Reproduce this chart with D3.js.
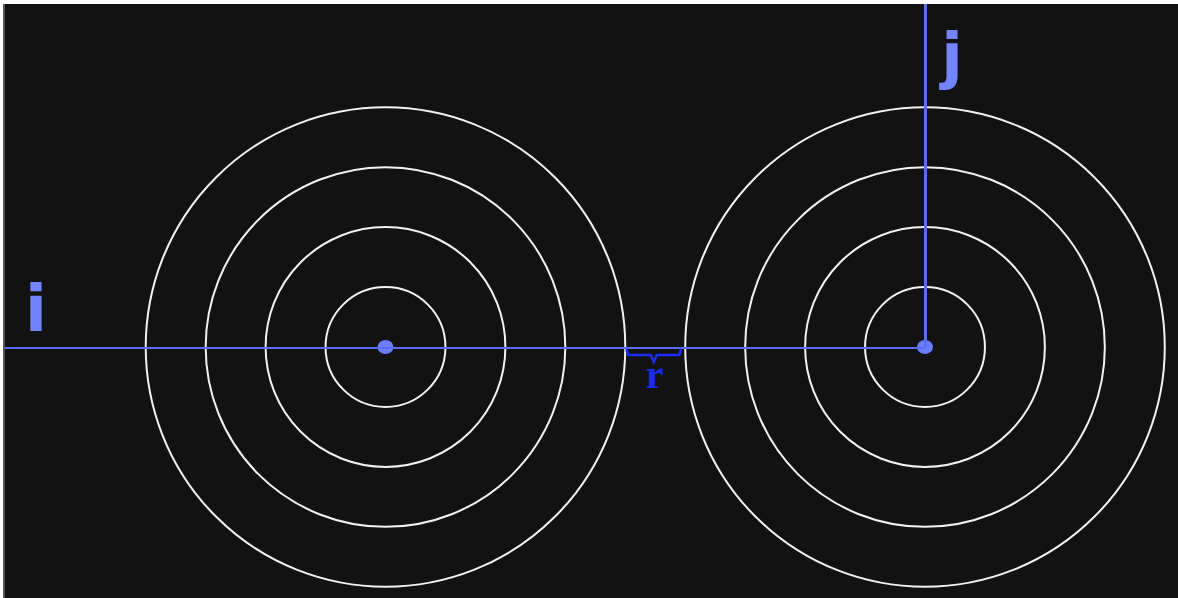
<!DOCTYPE html>
<html>
<head>
<meta charset="utf-8">
<style>
  html, body { margin: 0; padding: 0; background: #fff; }
  svg { display: block; }
</style>
</head>
<body>
<svg width="1178" height="598"></svg>
<script src="https://d3js.org/d3.v7.min.js"></script>
<script>

// data: two particles on a line, rings measured in units of the gap r
const particles = ["i", "j"];
const particleX = [0, 9];          // positions in ring units
const rings = [1, 2, 3, 4];         // ring radii in ring units
const gapStart = 4, gapEnd = 5;     // the gap r between the outer rings
const gapLabel = "r";

const svg = d3.select("svg"),
    width = +svg.attr("width"),
    height = +svg.attr("height");

const x = d3.scaleLinear().domain([0, 9]).range([385.5, 925]);
const cy = 347;
const unit = x(1) - x(0);

const lineColor = "#5b6bf2",
    labelColor = "#7384ff",
    braceColor = "#1a2cf2";

// frame
svg.append("rect").attr("x", 3).attr("y", 4).attr("width", 2).attr("height", height - 4).attr("fill", "#555");
svg.append("rect").attr("x", 5).attr("y", 4).attr("width", width - 5).attr("height", height - 4).attr("fill", "#121212");

// rings
const groups = svg.selectAll(".particle")
  .data(particles.map((name, i) => ({name: name, x: particleX[i]})))
  .enter().append("g")
  .attr("class", "particle");

groups.selectAll("circle.ring")
  .data(d => rings.map(k => ({cx: d.x, k: k})))
  .enter().append("circle")
  .attr("class", "ring")
  .attr("cx", d => x(d.cx))
  .attr("cy", cy)
  .attr("r", d => d.k * unit)
  .attr("fill", "none")
  .attr("stroke", "#f2f2f2")
  .attr("stroke-width", 2);

// axes through the particles
svg.append("line")
  .attr("x1", 5).attr("x2", x(particleX[1]))
  .attr("y1", cy + 1).attr("y2", cy + 1)
  .attr("stroke", lineColor).attr("stroke-width", 2);

svg.append("line")
  .attr("x1", x(particleX[1]) + 0.5).attr("x2", x(particleX[1]) + 0.5)
  .attr("y1", 4).attr("y2", cy)
  .attr("stroke", lineColor).attr("stroke-width", 3);

// particle dots
groups.append("ellipse")
  .attr("cx", d => x(d.x))
  .attr("cy", cy)
  .attr("rx", 8).attr("ry", 7)
  .attr("fill", "#6b7dff");

// labels i, j
svg.append("text")
  .attr("x", 36).attr("y", 331)
  .attr("text-anchor", "middle")
  .style("font-family", "DejaVu Sans")
  .style("font-weight", "bold")
  .style("font-size", "64px")
  .attr("fill", labelColor)
  .text(particles[0]);

svg.append("text")
  .attr("x", 952).attr("y", 77)
  .attr("text-anchor", "middle")
  .style("font-family", "DejaVu Sans")
  .style("font-weight", "bold")
  .style("font-size", "63px")
  .attr("fill", labelColor)
  .text(particles[1]);

// brace for r
const bx0 = x(gapStart) + 1, bx1 = x(gapEnd) - 4, bm = (bx0 + bx1) / 2;
svg.append("path")
  .attr("d", `M${bx0},349 L${bx0 + 2},355 L${bm - 3},355 L${bm},362 L${bm + 3},355 L${bx1 - 2},355 L${bx1},349`)
  .attr("fill", "none")
  .attr("stroke", braceColor)
  .attr("stroke-width", 2.5);

svg.append("text")
  .attr("x", bm + 1).attr("y", 388)
  .attr("text-anchor", "middle")
  .style("font-family", "Liberation Serif")
  .style("font-weight", "bold")
  .style("font-size", "40px")
  .attr("fill", braceColor)
  .text(gapLabel);

</script>
</body>
</html>
